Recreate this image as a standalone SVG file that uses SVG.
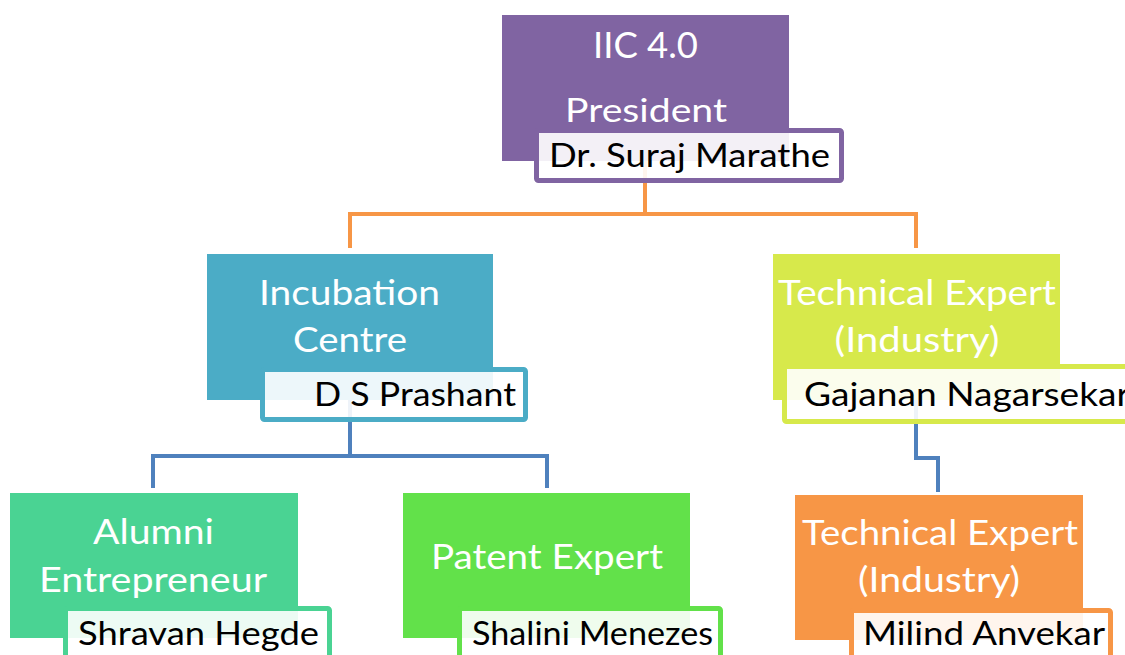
<svg xmlns="http://www.w3.org/2000/svg" width="1125" height="655" viewBox="0 0 1125 655">
<style>
.lbl{font-family:Lato,"Open Sans","Liberation Sans",sans-serif;font-size:35px;fill:#fff;text-anchor:middle}
.nm{font-family:Lato,"Open Sans","Liberation Sans",sans-serif;font-size:33px;fill:#000}
.nb{fill:#fff;fill-opacity:0.9;stroke-width:5}
.c{fill:none;stroke-width:4;stroke-linejoin:miter}
</style>
<rect width="1125" height="655" fill="#fff"/>
<g id="connectors">
<path class="c" stroke="#F79646" d="M645,160 V214 M350,248 V214 H916 V248"/>
<path class="c" stroke="#4F81BD" d="M350,400 V456 M153,488 V456 H547 V488"/>
<path class="c" stroke="#4F81BD" d="M916,400 V458 H938 V492"/>
</g>
<g id="node-president">
<rect x="502" y="15" width="287" height="146" fill="#8064A2"/>
<rect class="nb" x="536.5" y="130.5" width="305" height="50" rx="2" stroke="#8064A2"/>
<text class="lbl" x="645.5" y="58" style="font-size:37px" textLength="105" lengthAdjust="spacingAndGlyphs">IIC 4.0</text>
<text class="lbl" x="646" y="122" style="font-size:33px" textLength="162" lengthAdjust="spacingAndGlyphs">President</text>
<text class="nm" x="549" y="167" textLength="281" lengthAdjust="spacingAndGlyphs">Dr. Suraj Marathe</text>
</g>
<g id="node-incubation">
<rect x="207" y="254" width="286" height="146" fill="#4BACC6"/>
<rect class="nb" x="262.5" y="369.5" width="263" height="50" rx="2" stroke="#4BACC6"/>
<text class="lbl" x="349.5" y="305" textLength="181" lengthAdjust="spacingAndGlyphs">Incubation</text>
<text class="lbl" x="350" y="352" textLength="114" lengthAdjust="spacingAndGlyphs">Centre</text>
<text class="nm" x="314" y="406" textLength="202" lengthAdjust="spacingAndGlyphs">D S Prashant</text>
</g>
<g id="node-tech1">
<rect x="773" y="254" width="287" height="146" fill="#D7E94B"/>
<rect class="nb" x="784.5" y="366.5" width="360" height="55" rx="2" stroke="#D7E94B"/>
<text class="lbl" x="917" y="305" textLength="278" lengthAdjust="spacingAndGlyphs">Technical Expert</text>
<text class="lbl" x="917" y="352" textLength="165" lengthAdjust="spacingAndGlyphs">(Industry)</text>
<text class="nm" x="804" y="406" textLength="326" lengthAdjust="spacingAndGlyphs">Gajanan Nagarsekar</text>
</g>
<g id="node-alumni">
<rect x="10" y="493" width="288" height="145" fill="#4AD393"/>
<rect class="nb" x="65.5" y="608.5" width="264" height="60" rx="2" stroke="#4AD393"/>
<text class="lbl" x="153.5" y="544" textLength="121" lengthAdjust="spacingAndGlyphs">Alumni</text>
<text class="lbl" x="153" y="592" textLength="228" lengthAdjust="spacingAndGlyphs">Entrepreneur</text>
<text class="nm" x="78" y="645" textLength="241" lengthAdjust="spacingAndGlyphs">Shravan Hegde</text>
</g>
<g id="node-patent">
<rect x="403" y="493" width="287" height="145" fill="#62E14A"/>
<rect class="nb" x="459.5" y="608.5" width="261" height="60" rx="2" stroke="#62E14A"/>
<text class="lbl" x="547" y="569" textLength="232" lengthAdjust="spacingAndGlyphs">Patent Expert</text>
<text class="nm" x="472" y="645" textLength="241" lengthAdjust="spacingAndGlyphs">Shalini Menezes</text>
</g>
<g id="node-tech2">
<rect x="795" y="495" width="288" height="145" fill="#F79646"/>
<rect class="nb" x="851.5" y="610.5" width="259" height="60" rx="2" stroke="#F79646"/>
<text class="lbl" x="940" y="545" textLength="276" lengthAdjust="spacingAndGlyphs">Technical Expert</text>
<text class="lbl" x="939" y="592" textLength="162" lengthAdjust="spacingAndGlyphs">(Industry)</text>
<text class="nm" x="863" y="645" textLength="242" lengthAdjust="spacingAndGlyphs">Milind Anvekar</text>
</g>
</svg>
